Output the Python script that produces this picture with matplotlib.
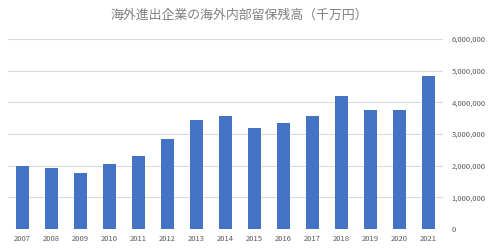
import matplotlib.pyplot as plt
from matplotlib.ticker import FuncFormatter

plt.rcParams['font.family'] = ['Noto Sans CJK JP', 'DejaVu Sans']

years = [str(y) for y in range(2007, 2022)]
values = [2000000, 1930000, 1770000, 2050000, 2320000, 2850000, 3450000,
          3560000, 3200000, 3360000, 3580000, 4200000, 3760000, 3760000,
          4830000]
title = "海外進出企業の海外内部留保残高（千万円）"

fig = plt.figure(figsize=(4.89, 2.5), dpi=100)
ax = fig.add_axes([0.016, 0.084, 0.890, 0.76])

ax.bar(range(len(years)), values, width=0.44, color="#4472C4", zorder=3)

ax.set_xlim(-0.5, len(years) - 0.5)
ax.set_ylim(0, 6000000)
ax.set_yticks(range(0, 6000001, 1000000))
ax.yaxis.set_major_formatter(FuncFormatter(lambda v, p: f"{int(v):,}"))
ax.set_xticks(range(len(years)))
ax.set_xticklabels(years)

ax.yaxis.tick_right()
ax.grid(axis="y", color="#D9D9D9", linewidth=0.8, zorder=0)
for s in ax.spines.values():
    s.set_visible(False)
ax.tick_params(axis="both", length=0, labelsize=5.5, colors="#595959")
ax.tick_params(axis="y", pad=6)
ax.tick_params(axis="x", pad=4)

fig.text(0.49, 0.94, title, ha="center", va="center", fontsize=9.3,
         color="#808080")

fig.savefig("out.png", dpi=100)
